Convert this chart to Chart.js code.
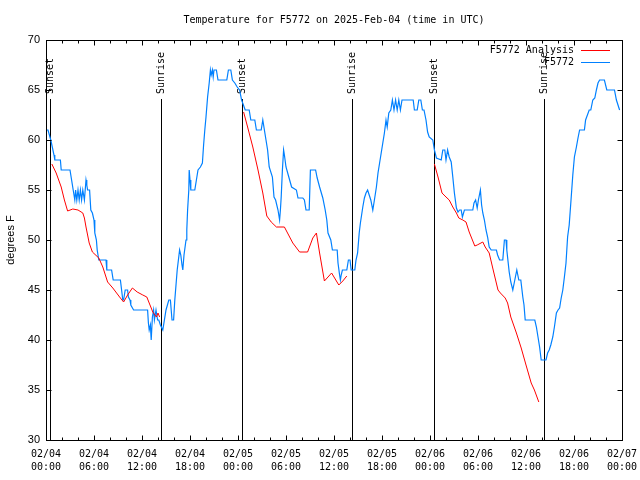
<!DOCTYPE html>
<html>
<head>
<meta charset="utf-8">
<title>Temperature for F5772</title>
<script src="https://cdn.jsdelivr.net/npm/chart.js@4.4.1/dist/chart.umd.min.js"></script>
<style>
  html, body { margin: 0; padding: 0; background: #fff; }
</style>
</head>
<body>
<canvas id="chart" width="640" height="480"></canvas>
<script>
// hours are counted from 02/04 00:00 UTC
const titleText = 'Temperature for F5772 on 2025-Feb-04 (time in UTC)';

// station observations: [hour, degF]
const obsPoints = [
  [0,61],[0.25,61],[0.6,60],[1.0,58.5],[1.1,58],[1.8,58],[1.9,57],[3.0,57],[3.2,56],[3.4,55],
  [3.6,54],[3.7,55],[3.85,54],[4.0,55],[4.15,54],[4.3,55],[4.45,54],[4.6,55],[4.8,54],[5.0,56],
  [5.1,55.5],[5.2,55],[5.45,55],[5.6,53],[5.8,52.7],[6.0,52],[6.1,50.7],[6.3,50],[6.4,49],[6.6,48],
  [7.5,48],[7.6,47],[8.2,47],[8.4,46],[9.3,46],[9.45,45],[9.6,44],[9.7,44],[9.9,45],[10.2,45],
  [10.3,44.3],[10.5,44],[10.6,43.5],[10.95,43],[12.7,43],[12.8,41.7],[12.9,41],[13.05,41.5],[13.15,40],[13.3,42.3],
  [13.45,43],[13.55,42],[13.75,43],[13.95,42],[14.1,42],[14.3,41.5],[14.6,41],[15.0,43],[15.35,44],[15.55,44],
  [15.75,42],[15.95,42],[16.1,44],[16.25,45.5],[16.4,47],[16.55,48],[16.7,49],[16.85,48.5],[17.0,47.5],[17.1,47],
  [17.25,48.5],[17.5,50],[17.6,51],[17.7,53],[17.85,55],[17.9,57],[18.0,56],[18.1,55],[18.6,55],[18.8,56],
  [19.0,57],[19.3,57.3],[19.55,57.7],[19.7,59.5],[19.85,61],[20.0,62.3],[20.2,64.3],[20.4,65.7],[20.55,67],[20.65,66.5],
  [20.8,67],[20.9,66.3],[21.0,67],[21.3,67],[21.5,66],[22.6,66],[22.8,67],[23.1,67],[23.3,66],[23.6,65.7],
  [23.9,65.3],[24.2,65],[24.45,64],[24.9,63],[25.4,63],[25.6,62],[26.1,62],[26.3,61],[26.9,61],[27.1,62],
  [27.2,61.5],[27.5,60],[27.7,59],[27.9,57.3],[28.3,56.3],[28.5,54.3],[28.7,54],[29.0,53],[29.2,52],[29.3,53],
  [29.4,54.3],[29.55,57],[29.7,59],[29.8,58.5],[30.0,57.3],[30.35,56.3],[30.7,55.3],[31.3,55],[31.5,54.2],[32.1,54.2],
  [32.3,54],[32.5,53],[32.9,53],[33.05,57],[33.7,57],[33.9,56.2],[34.2,55.3],[34.6,54.2],[34.9,53],[35.1,52],
  [35.25,50.7],[35.6,50],[35.8,49],[36.4,49],[36.5,47.7],[36.7,46.5],[36.8,46],[36.9,46.5],[37.05,47],[37.6,47],
  [37.8,48],[38.0,48],[38.15,47],[38.6,47],[38.75,48],[38.95,48.7],[39.15,50.7],[39.3,51.7],[39.45,52.5],[39.6,53.3],
  [39.8,54.2],[40.0,54.7],[40.2,55],[40.4,54.5],[40.6,54],[40.85,53],[41.05,54],[41.3,55.3],[41.5,56.7],[41.7,57.7],
  [41.9,58.7],[42.1,59.7],[42.3,60.7],[42.5,62],[42.65,61.3],[42.85,62.7],[43.1,63],[43.3,64],[43.5,63],[43.7,64],
  [43.9,63],[44.1,64],[44.3,63],[44.5,64],[45.9,64],[46.05,63],[46.4,63],[46.6,64],[46.85,64],[47.05,63],
  [47.25,63],[47.5,62],[47.7,60.8],[47.9,60.3],[48.35,60],[48.55,59],[48.8,58.2],[49.4,58],[49.6,59],[49.85,59],
  [50.0,58],[50.2,59],[50.4,58.3],[50.65,57.8],[50.85,56.3],[51.05,54.7],[51.3,53.2],[51.5,52.8],[51.7,53],[51.9,53],
  [52.05,52.3],[52.3,53],[53.35,53],[53.5,53.7],[53.7,54],[53.9,53.2],[54.05,54],[54.3,55],[54.45,53.5],[54.6,52.7],
  [54.8,52],[55.0,51],[55.2,50.3],[55.4,49.3],[55.65,49],[56.3,49],[56.45,48.5],[56.7,48],[57.1,48],[57.3,50],
  [57.5,50],[57.6,49],[57.9,46.8],[58.1,45.8],[58.35,45],[58.6,46],[58.85,47],[59.1,46],[59.35,46],[59.6,44.3],
  [59.75,43.5],[59.9,42],[61.1,42],[61.3,41.3],[61.5,40.3],[61.7,39.3],[61.9,38],[62.5,38],[62.7,38.7],[62.9,39],
  [63.1,39.5],[63.35,40.3],[63.55,41.3],[63.8,42.7],[64.0,43],[64.2,43.2],[64.4,44.2],[64.6,45],[64.8,46.3],[65.0,47.7],
  [65.2,50.3],[65.4,51.5],[65.6,53.7],[65.85,56.5],[66.05,58.3],[66.3,59.3],[66.5,60.2],[66.7,61],[67.3,61],[67.45,62],
  [67.9,63],[68.1,63],[68.35,64],[68.6,64.2],[68.8,65],[69.0,65.7],[69.2,66],[69.8,66],[70.1,65],[71.06,65],
  [71.3,64],[71.7,63]
];

// analysis, only over the nights (null = gap)
const anaPoints = [
  [0.73,57.6],[1.27,56.7],[1.9,55.3],[2.3,54],[2.7,52.9],[3.35,53.1],[4.0,53],[4.6,52.7],[4.8,52.2],[5.0,51.3],
  [5.4,49.7],[5.8,48.8],[6.6,48.2],[7.1,47.3],[7.7,45.8],[8.35,45.2],[9.2,44.3],[9.7,43.8],[10.2,44.5],[10.8,45.2],
  [11.4,44.8],[12.1,44.5],[12.6,44.3],[12.9,43.7],[13.35,42.8],[13.8,42.3],[14.0,42.7],[14.2,42.3],
  [19,null],
  [24.7,62.8],[25.2,61.3],[25.85,59.3],[26.5,57],[27.1,54.7],[27.6,52.4],[28.15,51.8],[28.8,51.3],[29.8,51.3],[30.85,49.7],
  [31.7,48.8],[32.7,48.8],[33.35,50.2],[33.8,50.7],[34.2,48.7],[34.8,45.9],[35.7,46.7],[36.6,45.5],[37.1,45.9],[37.6,46.4],
  [43,null],
  [48.55,57.6],[49.0,56.3],[49.5,54.7],[50.0,54.3],[50.4,54],[50.85,53.3],[51.3,52.7],[51.6,52.2],[52.1,52],[52.5,51.8],
  [52.9,50.8],[53.6,49.4],[53.9,49.5],[54.6,49.8],[54.9,49.3],[55.4,48.7],[55.9,47],[56.5,45],[56.8,44.7],[57.4,44.2],
  [57.7,43.7],[58.1,42.3],[58.8,40.7],[59.4,39.2],[60.0,37.5],[60.65,35.7],[61.05,35],[61.6,33.8]
];

const eventHours = [0.52, 14.4, 24.47, 38.22, 48.47, 62.22];
const eventLabels = ['Sunset', 'Sunrise', 'Sunset', 'Sunrise', 'Sunset', 'Sunrise'];

const xTickDates = ['02/04','02/04','02/04','02/04','02/05','02/05','02/05','02/05','02/06','02/06','02/06','02/06','02/07'];
const xTickTimes = ['00:00','06:00','12:00','18:00','00:00','06:00','12:00','18:00','00:00','06:00','12:00','18:00','00:00'];

const MONO = "'DejaVu Sans Mono', 'Liberation Mono', monospace";
const SANS = "'Liberation Sans', Arial, sans-serif";

const toXY = pts => pts.map(p => ({ x: p[0], y: p[1] }));

// gnuplot-ish decorations: frame, inward ticks, sun lines, legend, title
const decorPlugin = {
  id: 'decor',
  beforeDatasetsDraw(chart) {
    const { ctx, chartArea: a, scales: { x } } = chart;
    ctx.save();
    ctx.strokeStyle = '#000';
    ctx.lineWidth = 1;
    ctx.fillStyle = '#000';
    ctx.font = '10px ' + MONO;
    ctx.textAlign = 'left';
    ctx.textBaseline = 'middle';
    eventHours.forEach((h, i) => {
      const px = Math.round(x.getPixelForValue(h)) + 0.5;
      ctx.beginPath();
      ctx.moveTo(px, a.top + 59);
      ctx.lineTo(px, a.bottom);
      ctx.stroke();
      ctx.save();
      ctx.translate(px, a.top + 54);
      ctx.rotate(-Math.PI / 2);
      ctx.fillText(eventLabels[i], 0, 0);
      ctx.restore();
    });
    ctx.restore();
  },
  afterDraw(chart) {
    const { ctx, chartArea: a, scales: { x, y } } = chart;
    ctx.save();
    ctx.strokeStyle = '#000';
    ctx.lineWidth = 1;
    const L = Math.round(a.left) + 0.5, R = Math.round(a.right) + 0.5;
    const T = Math.round(a.top) + 0.5, B = Math.round(a.bottom) + 0.5;
    ctx.strokeRect(L, T, R - L, B - T);

    ctx.beginPath();
    for (let h = 0; h <= 72; h += 2) {
      const px = Math.round(x.getPixelForValue(h)) + 0.5;
      const len = h % 6 === 0 ? 5 : 3;
      ctx.moveTo(px, B); ctx.lineTo(px, B - len);
      ctx.moveTo(px, T); ctx.lineTo(px, T + len);
    }
    for (let v = 30; v <= 70; v += 5) {
      const py = Math.round(y.getPixelForValue(v)) + 0.5;
      ctx.moveTo(L, py); ctx.lineTo(L + 5, py);
      ctx.moveTo(R, py); ctx.lineTo(R - 5, py);
    }
    ctx.stroke();

    // title over the plot area
    ctx.fillStyle = '#000';
    ctx.font = '10px ' + MONO;
    ctx.textAlign = 'center';
    ctx.textBaseline = 'middle';
    ctx.fillText(titleText, (a.left + a.right) / 2, 20);

    // legend in the top right corner
    ctx.textAlign = 'right';
    chart.data.datasets.forEach((ds, i) => {
      const ry = Math.round(a.top + 10 + i * 12) + 0.5;
      ctx.fillStyle = '#000';
      ctx.fillText(ds.label, a.right - 48, ry);
      ctx.strokeStyle = ds.borderColor;
      ctx.lineWidth = 1;
      ctx.beginPath();
      ctx.moveTo(a.right - 41, ry);
      ctx.lineTo(a.right - 12, ry);
      ctx.stroke();
    });
    ctx.restore();
  }
};

new Chart(document.getElementById('chart'), {
  type: 'line',
  data: {
    datasets: [
      {
        label: 'F5772 Analysis',
        data: toXY(anaPoints),
        borderColor: '#ff0000',
        borderWidth: 1,
        pointRadius: 0,
        tension: 0,
        spanGaps: false
      },
      {
        label: 'F5772',
        data: toXY(obsPoints),
        borderColor: '#0080ff',
        borderWidth: 1.2,
        pointRadius: 0,
        tension: 0
      }
    ]
  },
  options: {
    responsive: false,
    animation: false,
    devicePixelRatio: 1,
    layout: { padding: { top: 40, right: 18, left: 0, bottom: 0 } },
    plugins: {
      legend: { display: false },
      title: { display: false },
      tooltip: { enabled: false }
    },
    scales: {
      x: {
        type: 'linear',
        min: 0,
        max: 72,
        afterFit: s => { s.height = 40; s.paddingLeft = 0; s.paddingRight = 0; },
        grid: { display: false, drawTicks: false },
        border: { display: false },
        ticks: {
          stepSize: 6,
          autoSkip: false,
          maxRotation: 0,
          padding: 8,
          color: '#000',
          font: { family: MONO, size: 10, lineHeight: 1.3 },
          callback: v => {
            const i = Math.round(v / 6);
            return [xTickDates[i], xTickTimes[i]];
          }
        }
      },
      y: {
        min: 30,
        max: 70,
        afterFit: s => { s.width = 46; },
        grid: { display: false, drawTicks: false },
        border: { display: false },
        title: {
          display: true,
          text: 'degrees F',
          color: '#000',
          font: { family: SANS, size: 11 },
          padding: { top: 4, bottom: 0 }
        },
        ticks: {
          stepSize: 5,
          padding: 6,
          color: '#000',
          font: { family: SANS, size: 11 }
        }
      }
    }
  },
  plugins: [decorPlugin]
});
</script>
</body>
</html>
